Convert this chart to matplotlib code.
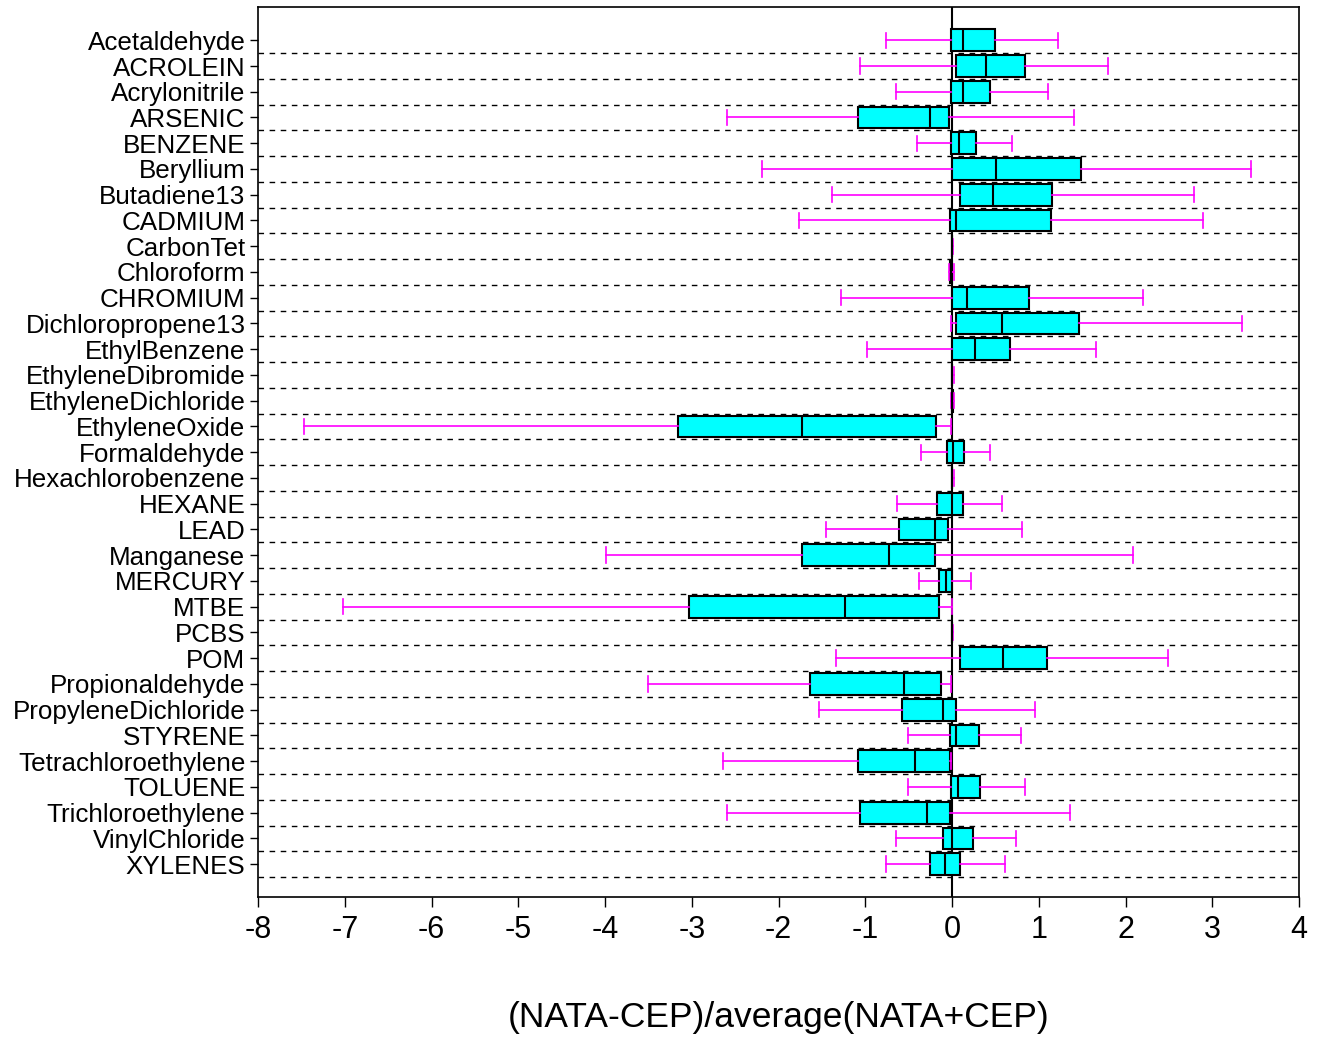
import matplotlib
matplotlib.use('Agg')
import matplotlib.pyplot as plt

plt.rcParams['font.family'] = ['Liberation Sans', 'DejaVu Sans']
plt.rcParams['axes.unicode_minus'] = False

# pollutant names, top to bottom
chemicals = ['Acetaldehyde', 'ACROLEIN', 'Acrylonitrile', 'ARSENIC', 'BENZENE', 'Beryllium',
             'Butadiene13', 'CADMIUM', 'CarbonTet', 'Chloroform', 'CHROMIUM', 'Dichloropropene13',
             'EthylBenzene', 'EthyleneDibromide', 'EthyleneDichloride', 'EthyleneOxide',
             'Formaldehyde', 'Hexachlorobenzene', 'HEXANE', 'LEAD', 'Manganese', 'MERCURY',
             'MTBE', 'PCBS', 'POM', 'Propionaldehyde', 'PropyleneDichloride', 'STYRENE',
             'Tetrachloroethylene', 'TOLUENE', 'Trichloroethylene', 'VinylChloride', 'XYLENES']

# box stats: whisker low, q1, median, q3, whisker high
whislo = [-0.76, -1.06, -0.65, -2.60, -0.41, -2.19, -1.38, -1.76, 0.0, -0.04, -1.28, -0.01,
          -0.98, 0.0, -0.01, -7.47, -0.36, 0.0, -0.63, -1.45, -3.99, -0.38,
          -7.02, 0.0, -1.34, -3.51, -1.53, -0.51, -2.64, -0.51, -2.60, -0.65, -0.76]
q1 = [-0.01, 0.04, -0.01, -1.08, -0.01, 0.0, 0.09, -0.03, 0.0, -0.03, 0.0, 0.05,
      0.0, 0.0, 0.0, -3.16, -0.06, 0.0, -0.18, -0.61, -1.73, -0.15,
      -3.03, 0.0, 0.09, -1.64, -0.58, -0.03, -1.08, -0.01, -1.06, -0.11, -0.25]
med = [0.12, 0.39, 0.12, -0.25, 0.08, 0.51, 0.47, 0.05, 0.0, -0.01, 0.17, 0.57,
       0.26, 0.0, 0.0, -1.73, 0.01, 0.0, 0.0, -0.20, -0.73, -0.07,
       -1.23, 0.0, 0.59, -0.56, -0.11, 0.05, -0.43, 0.07, -0.29, 0.0, -0.08]
q3 = [0.49, 0.84, 0.44, -0.04, 0.27, 1.49, 1.15, 1.14, 0.0, 0.0, 0.89, 1.46,
      0.67, 0.0, 0.01, -0.19, 0.14, 0.0, 0.12, -0.05, -0.20, 0.0,
      -0.15, 0.0, 1.09, -0.13, 0.05, 0.31, -0.03, 0.32, -0.03, 0.24, 0.09]
whishi = [1.22, 1.80, 1.11, 1.41, 0.69, 3.44, 2.79, 2.89, 0.01, 0.02, 2.20, 3.34,
          1.66, 0.02, 0.02, -0.01, 0.44, 0.02, 0.57, 0.81, 2.09, 0.22,
          0.0, 0.01, 2.49, -0.01, 0.96, 0.79, -0.01, 0.84, 1.36, 0.74, 0.61]

stats = []
for i in range(len(chemicals)):
    stats.append({'label': chemicals[i], 'whislo': whislo[i], 'q1': q1[i], 'med': med[i],
                  'q3': q3[i], 'whishi': whishi[i], 'fliers': []})

fig = plt.figure(figsize=(13.23, 10.42), dpi=100)
ax = fig.add_axes([0.195, 0.139, 0.787, 0.854])

pos = list(range(len(chemicals)))
ax.bxp(stats, positions=pos, vert=False, widths=0.85, patch_artist=True, showfliers=False,
       boxprops=dict(facecolor='#00ffff', edgecolor='black', linewidth=1.5),
       medianprops=dict(color='black', linewidth=1.5),
       whiskerprops=dict(color='#ff00ff', linewidth=1.2),
       capprops=dict(color='#ff00ff', linewidth=1.2), capwidths=0.6, zorder=3)

# dashed separators between rows
for p in pos:
    ax.axhline(p + 0.5, color='black', linestyle=(0, (4, 4)), linewidth=1, zorder=1)
ax.axvline(0, color='black', linewidth=1.5, zorder=2)

ax.set_ylim(len(chemicals) - 1 + 1.28, -1.28)
ax.set_xlim(-8, 4)
ax.set_xticks(range(-8, 5))
ax.set_yticks(pos)
ax.set_yticklabels(chemicals, fontsize=18.7)
ax.tick_params(axis='x', labelsize=22, length=7, width=1, pad=6)
ax.tick_params(axis='y', length=6, width=1, pad=3)
for s in ax.spines.values():
    s.set_linewidth(1.2)
ax.set_xlabel('(NATA-CEP)/average(NATA+CEP)', fontsize=25.5, labelpad=40)

fig.savefig('out.png', dpi=100)
